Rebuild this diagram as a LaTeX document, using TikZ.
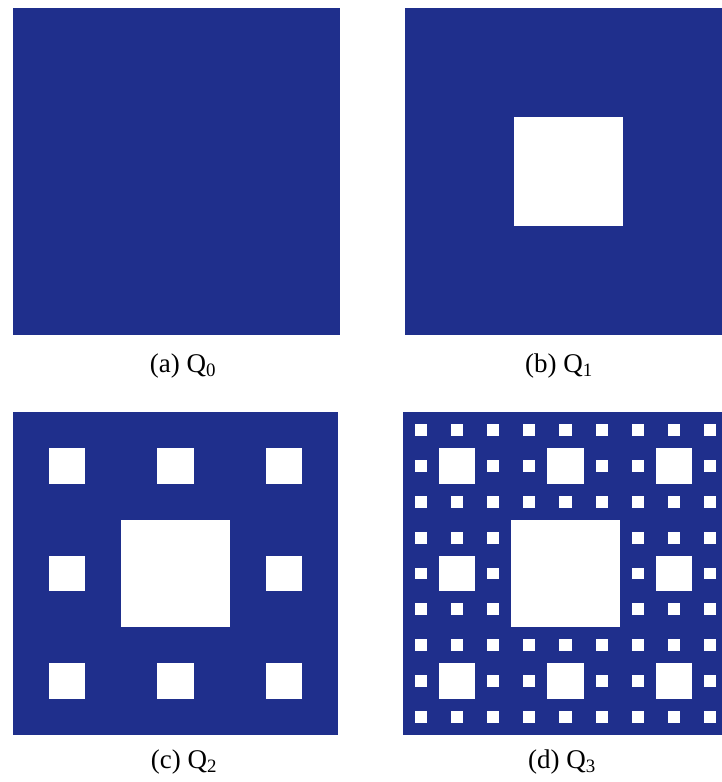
\documentclass[tikz,border=0pt]{standalone}
\usepackage{fontspec}
\setmainfont{Liberation Serif}
\usetikzlibrary{positioning}
\definecolor{carpetblue}{HTML}{1F2F8C}
\tikzset{
  panelbox/.style={fill=carpetblue, draw=none},
  holebox/.style={fill=white, draw=none},
  captiontext/.style={font=\fontsize{27}{32}\selectfont, inner sep=0pt},
}
% panel at (x0,y0), width, height, number of levels
\newcommand{\drawcarpet}[5]{%
  \fill[panelbox] (#1,#2) rectangle ++(#3,#4);
  \ifnum#5>0
  \foreach \lev in {1,...,#5}{%
    \pgfmathtruncatemacro{\nmax}{3^(\lev-1)-1}
    \pgfmathsetmacro{\hw}{#3/3^\lev}
    \pgfmathsetmacro{\hh}{#4/3^\lev}
    \foreach \ii in {0,...,\nmax}{
      \foreach \jj in {0,...,\nmax}{
        \fill[holebox] ({#1+(3*\ii+1)*\hw},{#2+(3*\jj+1)*\hh}) rectangle ++(\hw,\hh);
      }
    }
  }
  \fi
}

\begin{document}
\begin{tikzpicture}[x=1pt, y=-1pt]
  \useasboundingbox (0,0) rectangle (722,782);
  \clip (0,0) rectangle (722,782);

  % carpets
  \drawcarpet{13}{8}{327}{327}{0}
  \drawcarpet{405}{8}{327}{327}{1}
  \drawcarpet{13}{412}{325}{323}{2}
  \drawcarpet{403}{412}{325}{323}{3}

  % captions
  \node[captiontext] (capa) at (183,366) {(a) Q\textsubscript{0}};
  \node[captiontext] (capb) at (559,366) {(b) Q\textsubscript{1}};
  \node[captiontext] (capc) at (184,762) {(c) Q\textsubscript{2}};
  \node[captiontext] (capd) at (562,762) {(d) Q\textsubscript{3}};
\end{tikzpicture}
\end{document}
